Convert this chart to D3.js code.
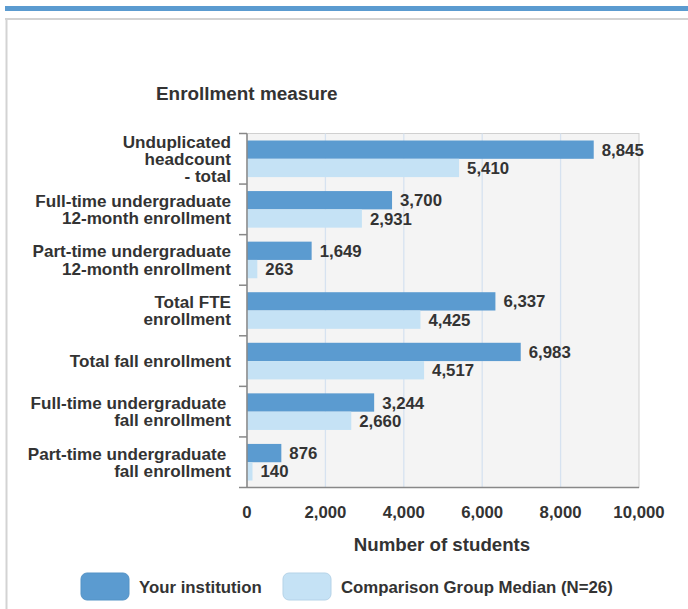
<!DOCTYPE html>
<html>
<head>
<meta charset="utf-8">
<script src="https://cdn.jsdelivr.net/npm/d3@7"></script>
<style>
  body { margin: 0; background: #fff; }
  svg { display: block; font-family: "Liberation Sans", Arial, sans-serif; font-weight: bold; }
</style>
</head>
<body>
<div id="chart"></div>
<script>
// categories (lines of each label)
const categories = [
  ["Unduplicated", "headcount", "- total"],
  ["Full-time undergraduate", "12-month enrollment"],
  ["Part-time undergraduate", "12-month enrollment"],
  ["Total FTE", "enrollment"],
  ["Total fall enrollment"],
  ["Full-time undergraduate ", "fall enrollment"],
  ["Part-time undergraduate ", "fall enrollment"]
];
const yourInstitution = [8845, 3700, 1649, 6337, 6983, 3244, 876];
const comparisonMedian = [5410, 2931, 263, 4425, 4517, 2660, 140];
const seriesNames = ["Your institution", "Comparison Group Median (N=26)"];
const xTicks = [0, 2000, 4000, 6000, 8000, 10000];

const width = 688, height = 609;
const colors = ["#5b9bd0", "#c5e2f5"];
const textColor = "#333";

const svg = d3.select("#chart").append("svg")
  .attr("width", width)
  .attr("height", height);

// page frame
svg.append("rect").attr("x", 5).attr("y", 6).attr("width", width - 5).attr("height", 5).attr("fill", "#5b9bd0");
svg.append("rect").attr("x", 5).attr("y", 18).attr("width", width - 5).attr("height", 2).attr("fill", "#d3d3d3");
svg.append("rect").attr("x", 5.5).attr("y", 18).attr("width", 2).attr("height", height - 18).attr("fill", "#d3d3d3");

const x = d3.scaleLinear().domain([0, 10000]).range([247, 639]);
const keys = categories.map((c, i) => i);
const y = d3.scaleBand().domain(keys).range([133.5, 487.5]);
const inner = d3.scaleBand().domain([0, 1]).range([7, 43.6]);

// plot background
svg.append("rect")
  .attr("x", x(0)).attr("y", y.range()[0])
  .attr("width", x(10000) - x(0)).attr("height", y.range()[1] - y.range()[0])
  .attr("fill", "#f4f4f4")
  .attr("stroke", "#d0d0d0");

// gridlines
svg.append("g").selectAll("line")
  .data(xTicks.slice(1, -1))
  .join("line")
  .attr("x1", d => x(d)).attr("x2", d => x(d))
  .attr("y1", y.range()[0]).attr("y2", y.range()[1])
  .attr("stroke", "#d6e2f0")
  .attr("stroke-width", 1.3);

// bars
const rows = keys.map(i => [yourInstitution[i], comparisonMedian[i]]);
const group = svg.append("g").selectAll("g")
  .data(rows)
  .join("g")
  .attr("transform", (d, i) => `translate(0,${y(i)})`);

group.selectAll("rect")
  .data(d => d)
  .join("rect")
  .attr("x", x(0))
  .attr("y", (d, j) => inner(j))
  .attr("width", d => x(d) - x(0))
  .attr("height", inner.bandwidth())
  .attr("fill", (d, j) => colors[j]);

group.selectAll("text")
  .data(d => d)
  .join("text")
  .attr("x", d => x(d) + 8)
  .attr("y", (d, j) => inner(j) + inner.bandwidth() / 2)
  .attr("dy", "0.36em")
  .attr("font-size", 16.8)
  .attr("fill", textColor)
  .text(d => d3.format(",")(d));

// left axis
const yAxis = svg.append("g");
yAxis.append("line")
  .attr("x1", x(0)).attr("x2", x(0))
  .attr("y1", y.range()[0]).attr("y2", y.range()[1])
  .attr("stroke", "#888").attr("stroke-width", 1.5);
yAxis.selectAll(".tick")
  .data(keys.concat([keys.length]))
  .join("line")
  .attr("x1", x(0) - 8).attr("x2", x(0))
  .attr("y1", d => d < keys.length ? y(d) : y.range()[1])
  .attr("y2", d => d < keys.length ? y(d) : y.range()[1])
  .attr("stroke", "#888").attr("stroke-width", 1.5);

const labels = svg.append("g").selectAll("text")
  .data(categories)
  .join("text")
  .attr("font-size", 17.1)
  .attr("fill", textColor)
  .attr("text-anchor", "end")
  .style("white-space", "pre")
  .attr("transform", (d, i) => `translate(231,${y(i) + y.bandwidth() / 2})`);
labels.selectAll("tspan")
  .data(d => d.map((t, k) => ({t, k, n: d.length})))
  .join("tspan")
  .attr("x", 0)
  .attr("y", d => (d.k - (d.n - 1) / 2) * 17.3)
  .attr("dy", "0.36em")
  .text(d => d.t);

// bottom axis
svg.append("line")
  .attr("x1", x(0)).attr("x2", x(10000))
  .attr("y1", y.range()[1]).attr("y2", y.range()[1])
  .attr("stroke", "#888").attr("stroke-width", 1.5);
svg.append("g").selectAll("text")
  .data(xTicks)
  .join("text")
  .attr("x", d => x(d))
  .attr("y", 518)
  .attr("text-anchor", "middle")
  .attr("font-size", 16.8)
  .attr("fill", textColor)
  .text(d => d3.format(",")(d));

svg.append("text")
  .attr("x", 442).attr("y", 551)
  .attr("text-anchor", "middle")
  .attr("font-size", 18.7)
  .attr("fill", textColor)
  .text("Number of students");

svg.append("text")
  .attr("x", 156).attr("y", 100)
  .attr("font-size", 18.9)
  .attr("fill", textColor)
  .text("Enrollment measure");

// legend
const legendX = [81, 283];
const legend = svg.append("g").selectAll("g")
  .data(seriesNames)
  .join("g")
  .attr("transform", (d, i) => `translate(${legendX[i]},573)`);
legend.append("rect")
  .attr("width", 48).attr("height", 27).attr("rx", 6)
  .attr("fill", (d, i) => colors[i])
  .attr("stroke", (d, i) => i ? "#b5d3e8" : "#5593c6");
legend.append("text")
  .attr("x", 58).attr("y", 13.5)
  .attr("dy", "0.36em")
  .attr("font-size", 16.8)
  .attr("fill", textColor)
  .text(d => d);
</script>
</body>
</html>
